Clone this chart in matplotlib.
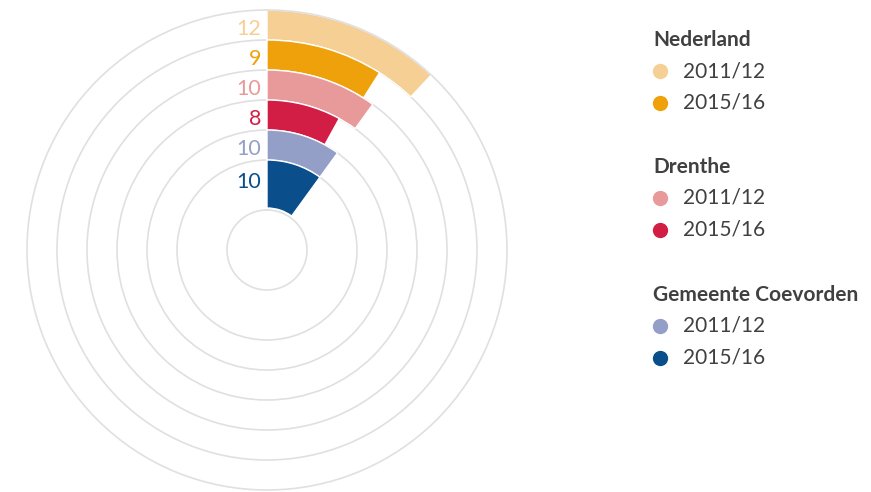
import numpy as np
import matplotlib.pyplot as plt
from matplotlib.lines import Line2D

# data
groups = ['Nederland', 'Drenthe', 'Gemeente Coevorden']
periods = ['2011/12', '2015/16']
values = [12, 9, 10, 8, 10, 10]  # outer -> inner ring
colors = ['#F6CF94', '#EEA10A', '#E89A9A', '#D21E45', '#949FC8', '#0A4F8C']
ring_outer = [240, 210, 180, 150, 120, 90]
ring_inner = [210, 180, 150, 120, 90, 42]

plt.rcParams['font.family'] = ['Lato', 'DejaVu Sans']

fig = plt.figure(figsize=(8.71, 4.92), dpi=100)
ax = fig.add_axes([27 / 871, 2 / 492, 480 / 871, 480 / 492], projection='polar')
ax.set_theta_zero_location('N')
ax.set_theta_direction(-1)
ax.set_ylim(0, 240)
ax.set_axisbelow(True)

# rings
ax.set_yticks([40, 90, 120, 150, 180, 210])
ax.set_yticklabels([])
ax.set_xticks([])
ax.yaxis.grid(True, color='#E0E0E0', linewidth=1.2, linestyle='-')
ax.spines['polar'].set_color('#E0E0E0')
ax.spines['polar'].set_linewidth(1.2)

for v, c, r0, r1 in zip(values, colors, ring_inner, ring_outer):
    theta = v / 100 * 2 * np.pi
    ax.bar(theta / 2, r1 - r0, width=theta, bottom=r0, color=c,
           edgecolor='white', linewidth=1.0, align='center')
    ax.annotate(str(v), xy=(0, (r0 + r1) / 2 if r0 > 50 else 72), xytext=(-4, -3),
                textcoords='offset points', ha='right', va='center',
                fontsize=15.5, color=c)

# legend
ty = [40, 167, 295]
k = 0
for g, y in zip(groups, ty):
    fig.text(653 / 871, 1 - y / 492, g, fontsize=15, fontweight='bold',
             color='#404040', ha='left', va='center')
    for j, p in enumerate(periods):
        yy = 1 - (y + 31 + j * 31.5) / 492
        fig.add_artist(Line2D([660 / 871], [yy], marker='o', markersize=10,
                              color=colors[k], linestyle='none',
                              transform=fig.transFigure))
        fig.text(683 / 871, yy, p, fontsize=15, color='#404040',
                 ha='left', va='center')
        k += 1

fig.savefig('out.png', dpi=100)
